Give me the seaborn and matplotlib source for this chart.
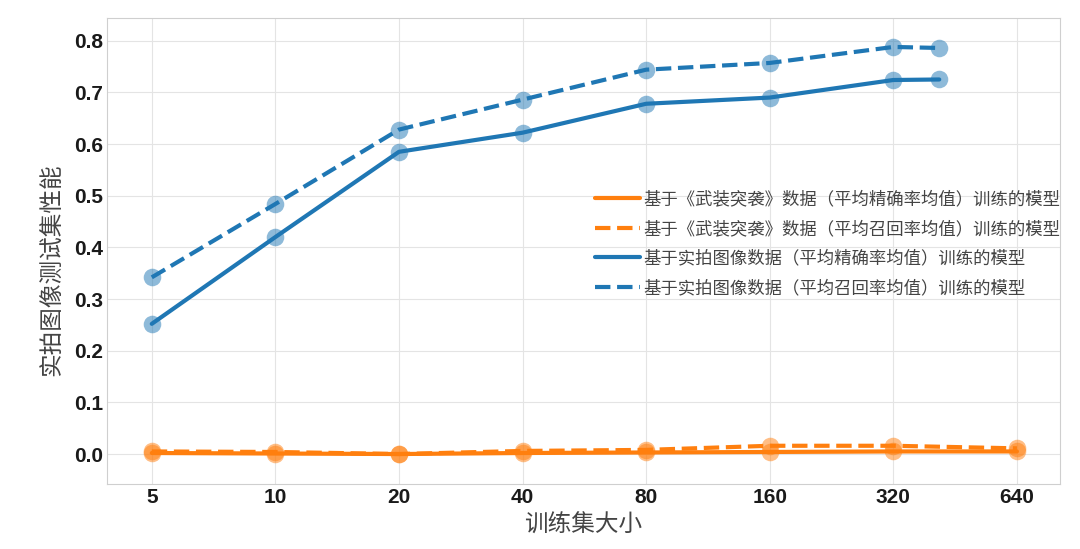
import matplotlib
matplotlib.use("Agg")
import matplotlib.pyplot as plt
import seaborn as sns

# training set sizes (tick labels) and the x values actually used
tick_sizes = [5, 10, 20, 40, 80, 160, 320, 640]
arma_sizes = [5, 10, 20, 40, 80, 160, 320, 640]
real_sizes = [5, 10, 20, 40, 80, 160, 320, 414]

arma_precision = [0.002, 0.001, 0.000, 0.002, 0.003, 0.004, 0.005, 0.005]
arma_recall = [0.005, 0.004, 0.000, 0.006, 0.008, 0.016, 0.016, 0.011]
real_precision = [0.252, 0.420, 0.585, 0.622, 0.678, 0.690, 0.724, 0.725]
real_recall = [0.342, 0.484, 0.628, 0.686, 0.744, 0.757, 0.788, 0.786]

labels = [
    "基于《武装突袭》数据（平均精确率均值）训练的模型",
    "基于《武装突袭》数据（平均召回率均值）训练的模型",
    "基于实拍图像数据（平均精确率均值）训练的模型",
    "基于实拍图像数据（平均召回率均值）训练的模型",
]

sns.set_style("whitegrid", {"grid.color": "#e4e4e4", "axes.edgecolor": "#cfcfcf"})
plt.rcParams["font.family"] = ["Liberation Sans", "Noto Sans CJK SC"]
cjk = ["Noto Sans CJK SC", "DejaVu Sans"]

fig = plt.figure(figsize=(10.8, 5.49), dpi=100)
ax = fig.add_axes([0.0991, 0.1184, 0.8824, 0.8488])

orange = "#ff7f0e"
blue = "#1f77b4"
series = [
    (arma_sizes, arma_precision, orange, "-", labels[0]),
    (arma_sizes, arma_recall, orange, "--", labels[1]),
    (real_sizes, real_precision, blue, "-", labels[2]),
    (real_sizes, real_recall, blue, "--", labels[3]),
]

for xs, ys, col, ls, lab in series:
    sns.scatterplot(x=xs, y=ys, color=col, s=160, alpha=0.5, linewidth=0,
                    legend=False, ax=ax, zorder=2)
    sns.lineplot(x=xs, y=ys, color=col, linestyle=ls, linewidth=3,
                 label=lab, ax=ax, sort=False, zorder=3)

ax.set_xscale("log", base=2)
ax.set_xticks(tick_sizes)
ax.set_xticklabels([str(v) for v in tick_sizes])
ax.minorticks_off()
ax.set_xlim(3.89, 815)
ax.set_ylim(-0.058, 0.844)
ax.set_yticks([0.0, 0.1, 0.2, 0.3, 0.4, 0.5, 0.6, 0.7, 0.8])
ax.set_yticklabels(["0.0", "0.1", "0.2", "0.3", "0.4", "0.5", "0.6", "0.7", "0.8"])
ax.tick_params(axis="both", labelsize=15, colors="#1a1a1a", pad=3, length=0)
for t in ax.get_xticklabels() + ax.get_yticklabels():
    t.set_fontweight("bold")

ax.set_xlabel("训练集大小", family=cjk, fontsize=17, color="#444444")
ax.set_ylabel("实拍图像测试集性能", family=cjk, fontsize=17, color="#444444")
ax.xaxis.set_label_coords(0.5, -0.063)
ax.yaxis.set_label_coords(-0.046, 0.46)

leg = ax.legend(loc="upper left", bbox_to_anchor=(0.512, 0.631), frameon=False,
                prop={"family": cjk, "size": 12.5}, handlelength=2.6,
                handletextpad=0.2, borderpad=0, borderaxespad=0, labelspacing=0.68)
for t in leg.get_texts():
    t.set_color("#444444")

fig.savefig("out.png", dpi=100)
